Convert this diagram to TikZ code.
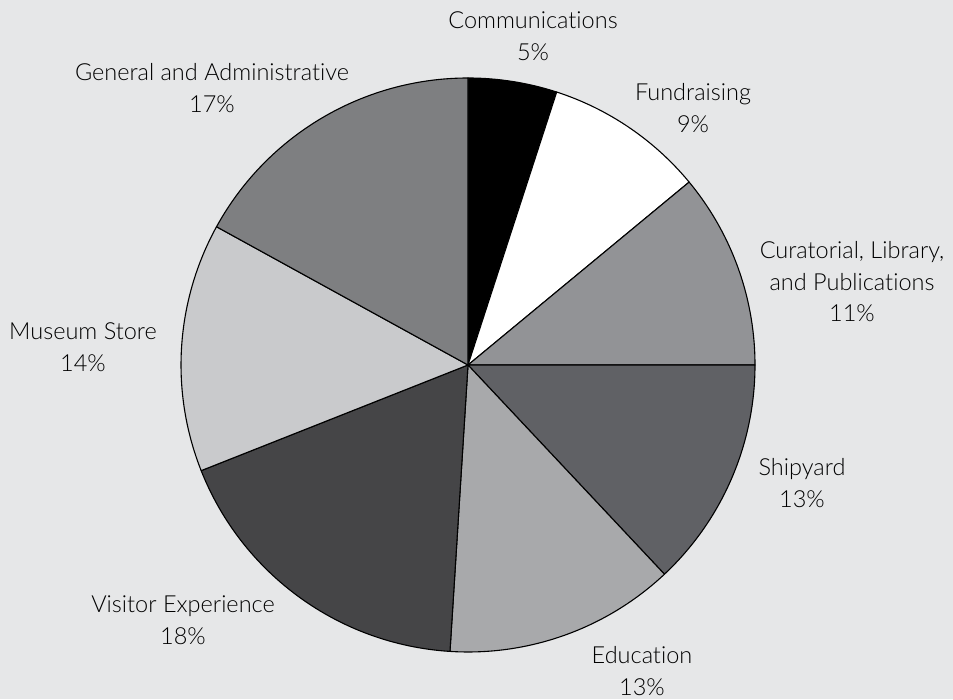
\documentclass[tikz,border=0pt]{standalone}
\usepackage{fontspec}
\setmainfont[Ligatures={NoCommon}]{Lato Light}
\usepackage{tikz}
\definecolor{bgcol}{HTML}{E6E7E8}
\definecolor{commcol}{HTML}{000000}
\definecolor{fundcol}{HTML}{FFFFFF}
\definecolor{curcol}{HTML}{929396}
\definecolor{shipcol}{HTML}{606165}
\definecolor{educol}{HTML}{A8A9AB}
\definecolor{viscol}{HTML}{454547}
\definecolor{muscol}{HTML}{C9CACC}
\definecolor{gencol}{HTML}{7E7F81}
\tikzstyle{slice} = [draw=black, line width=1.1pt, line join=round]
\tikzstyle{pietext} = [align=center, font=\fontsize{23.5}{31.5}\selectfont, inner sep=0pt]

\begin{document}
\begin{tikzpicture}[x=1pt, y=1pt]
        \fill[bgcol] (0,0) rectangle (953,699);
        \useasboundingbox (0,0) rectangle (953,699);
        \coordinate (c) at (468,334);
        % slices, clockwise from the top
        \filldraw[slice, fill=commcol] (c) -- ++(72:287) arc[start angle=72, end angle=90, radius=287] -- cycle;
        \filldraw[slice, fill=fundcol] (c) -- ++(39.6:287) arc[start angle=39.6, end angle=72, radius=287] -- cycle;
        \filldraw[slice, fill=curcol] (c) -- ++(0:287) arc[start angle=0, end angle=39.6, radius=287] -- cycle;
        \filldraw[slice, fill=shipcol] (c) -- ++(-46.8:287) arc[start angle=-46.8, end angle=0, radius=287] -- cycle;
        \filldraw[slice, fill=educol] (c) -- ++(-93.6:287) arc[start angle=-93.6, end angle=-46.8, radius=287] -- cycle;
        \filldraw[slice, fill=viscol] (c) -- ++(-158.4:287) arc[start angle=-158.4, end angle=-93.6, radius=287] -- cycle;
        \filldraw[slice, fill=muscol] (c) -- ++(-208.8:287) arc[start angle=-208.8, end angle=-158.4, radius=287] -- cycle;
        \filldraw[slice, fill=gencol] (c) -- ++(90:287) arc[start angle=90, end angle=151.2, radius=287] -- cycle;
        % labels
        \node[pietext] (comm) at (533,663) {Communications\\5\%};
        \node[pietext] (fund) at (693,591) {Fundraising\\9\%};
        \node[pietext] (cur) at (852,417) {Curatorial, Library,\\and Publications\\11\%};
        \node[pietext] (ship) at (802,216) {Shipyard\\13\%};
        \node[pietext] (edu) at (642,28) {Education\\13\%};
        \node[pietext] (vis) at (183,79) {Visitor Experience\\18\%};
        \node[pietext] (mus) at (83,352) {Museum Store\\14\%};
        \node[pietext] (gen) at (212,611) {General and Administrative\\17\%};
\end{tikzpicture}
\end{document}
